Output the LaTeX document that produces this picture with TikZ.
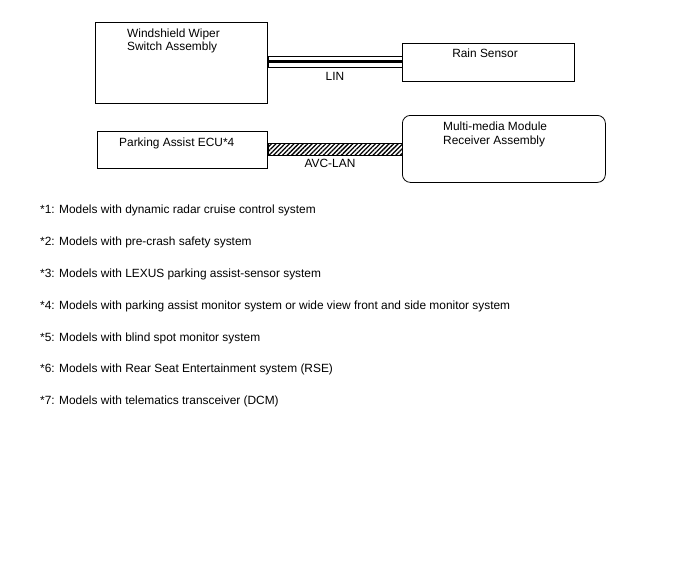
\documentclass[tikz,border=0pt]{standalone}
\usepackage{fontspec}
\setmainfont{Liberation Sans}
\usetikzlibrary{patterns.meta}
\begin{document}
\begin{tikzpicture}[x=1pt,y=-1pt,
  box/.style={draw,line width=0.8pt,inner sep=0pt,anchor=north west},
  lbl/.style={inner sep=0pt,anchor=base west,font=\fontsize{11.9}{14}\selectfont},
  note/.style={inner sep=0pt,anchor=base west,font=\fontsize{11.9}{14}\selectfont}]
\useasboundingbox (0,0) rectangle (688,560);
% boxes
\node[box,minimum width=172pt,minimum height=81pt] (wiper) at (95,22) {};
\node[box,minimum width=172pt,minimum height=38pt] (rain) at (402,43) {};
\node[box,minimum width=170pt,minimum height=37pt] (pa) at (97,131) {};
\node[box,rounded corners=8pt,minimum width=203pt,minimum height=67pt] (mm) at (402,115) {};
% texts
\node[lbl] (t1) at (127,37) {Windshield Wiper};
\node[lbl] (t2) at (127,50) {Switch Assembly};
\node[lbl,anchor=base] (t3) at (485,57) {Rain Sensor};
\node[lbl] (t4) at (119,146) {Parking Assist ECU*4};
\node[lbl] (t5) at (443,130) {Multi-media Module};
\node[lbl] (t6) at (443,144) {Receiver Assembly};
% LIN bus
\draw[line width=0.6pt,fill=white] (wiper.east |- 0,56) rectangle (rain.west |- 0,67);
\draw[line width=3pt] (wiper.east |- 0,61.5) -- (rain.west |- 0,61.5);
\node[lbl,anchor=base] (lin) at (335,80) {LIN};
% AVC-LAN bus
\draw[line width=0.6pt,pattern={Lines[angle=45,distance=3.2pt,line width=1.3pt]}] (pa.east |- 0,143) rectangle (mm.west |- 0,155);
\node[lbl,anchor=base] (avc) at (330,167) {AVC-LAN};
% notes
\node[note] (n1) at (40,213) {*1: Models with dynamic radar cruise control system};
\node[note] (n2) at (40,245) {*2: Models with pre-crash safety system};
\node[note] (n3) at (40,277) {*3: Models with LEXUS parking assist-sensor system};
\node[note] (n4) at (40,309) {*4: Models with parking assist monitor system or wide view front and side monitor system};
\node[note] (n5) at (40,341) {*5: Models with blind spot monitor system};
\node[note] (n6) at (40,372) {*6: Models with Rear Seat Entertainment system (RSE)};
\node[note] (n7) at (40,404) {*7: Models with telematics transceiver (DCM)};
\end{tikzpicture}
\end{document}
